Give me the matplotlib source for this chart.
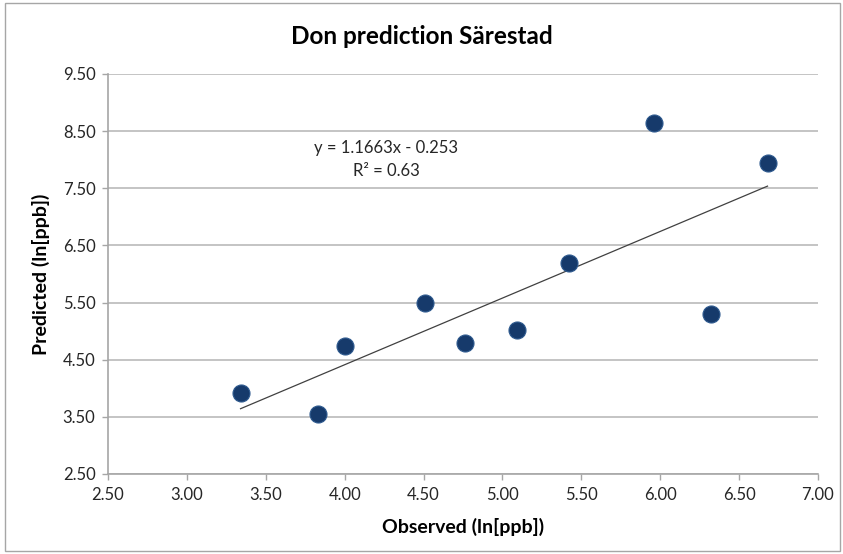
import numpy as np
import matplotlib.pyplot as plt

plt.rcParams['font.family'] = ['Lato', 'DejaVu Sans']

# data
observed = [3.34, 3.83, 4.00, 4.51, 4.76, 5.09, 5.42, 5.96, 6.32, 6.68]
predicted = [3.92, 3.55, 4.74, 5.49, 4.79, 5.02, 6.20, 8.65, 5.30, 7.95]
slope = 1.1663
intercept = -0.253
r2 = 0.63

x_ticks = [2.5, 3.0, 3.5, 4.0, 4.5, 5.0, 5.5, 6.0, 6.5, 7.0]
y_ticks = [2.5, 3.5, 4.5, 5.5, 6.5, 7.5, 8.5, 9.5]

W, H = 843, 554
fig = plt.figure(figsize=(W / 100, H / 100), dpi=100)
ax = fig.add_axes([108 / W, 1 - 474 / H, (818 - 108) / W, (474 - 74) / H])

# outer chart border
fig.patches.append(plt.Rectangle((5 / W, 3 / H), 835 / W, 548 / H, transform=fig.transFigure,
                                 fill=False, edgecolor='#a6a6a6', linewidth=1.0))

ax.set_xlim(2.5, 7.0)
ax.set_ylim(2.5, 9.5)
ax.set_xticks(x_ticks)
ax.set_yticks(y_ticks)
ax.set_xticklabels([f"{v:.2f}" for v in x_ticks])
ax.set_yticklabels([f"{v:.2f}" for v in y_ticks])
ax.tick_params(axis='both', labelsize=12, colors='#a6a6a6', labelcolor='#262626', length=4, width=1)
ax.tick_params(axis='x', pad=5)
ax.tick_params(axis='y', pad=5)

ax.grid(axis='y', color='#bfbfbf', linewidth=1.3)
ax.set_axisbelow(True)
for side in ['top', 'right']:
    ax.spines[side].set_visible(False)
for side in ['left', 'bottom']:
    ax.spines[side].set_color('#a6a6a6')
    ax.spines[side].set_linewidth(1.2)

# trend line
xs = np.array([min(observed), max(observed)])
ax.plot(xs, slope * xs + intercept, color='#404040', linewidth=0.9, zorder=2)

ax.scatter(observed, predicted, s=150, color='#163a6b', edgecolors='#2e5a8f',
           linewidths=0.8, zorder=3)

ax.text(0.392, 0.814, f"y = {slope}x - {abs(intercept)}", transform=ax.transAxes,
        ha='center', va='center', fontsize=12, color='#262626')
ax.text(0.392, 0.758, f"R² = {r2}", transform=ax.transAxes,
        ha='center', va='center', fontsize=12, color='#262626')

fig.text(0.5, 1 - 37 / H, "Don prediction Särestad", ha='center', va='center',
         fontsize=17.5, fontweight='bold')
ax.set_xlabel("Observed (ln[ppb])", fontsize=14, fontweight='bold', labelpad=11)
ax.set_ylabel("Predicted (ln[ppb])", fontsize=14, fontweight='bold', labelpad=9)

fig.savefig('out.png', dpi=100)
